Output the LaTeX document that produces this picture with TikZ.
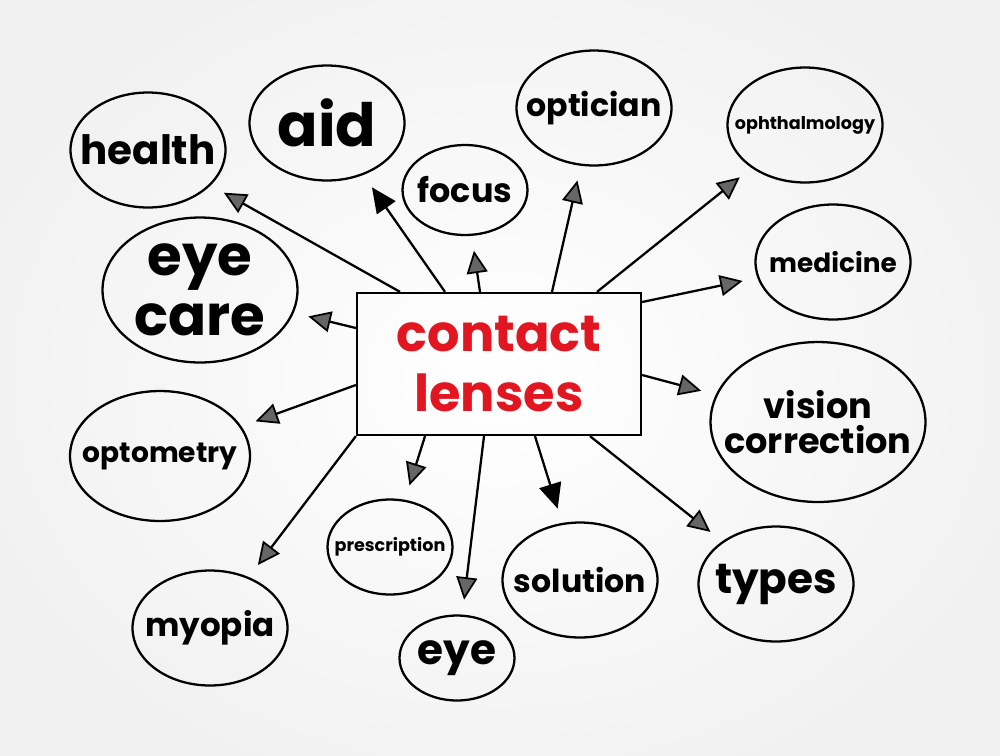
\documentclass[tikz,border=0pt]{standalone}
\usepackage{fontspec}
\setmainfont{Poppins}
\usetikzlibrary{shapes.geometric,arrows.meta}
\definecolor{markerred}{RGB}{226,22,32}
\begin{document}
\begin{tikzpicture}[x=0.02cm, y=-0.02cm,
  bubble/.style={draw, ellipse, line width=1.3pt, inner sep=0pt},
  every label/.style={align=center, inner sep=0pt},
  spoke/.style={line width=1.3pt, shorten >=0.3cm, -{Triangle[open, fill=black!60, length=0.45cm, width=0.42cm, line width=1pt]}},
  solid spoke/.style={line width=1.3pt, shorten >=0.3cm, -{Triangle[length=0.5cm, width=0.45cm]}}]
\useasboundingbox (0,0) rectangle (1000,755);
\shade[inner color=white, outer color=black!6] (-100,-100) rectangle (1100,855);
% centre
\node[draw, line width=1.3pt, minimum width=5.68cm, minimum height=2.84cm, align=center, text=markerred, font=\bfseries\fontsize{29}{34}\selectfont] (cl) at (499,364) {contact\\lenses};
% bubbles
\node[bubble, minimum width=3.1cm, minimum height=2.3cm, label={[font=\bfseries\fontsize{23}{25}\selectfont]center:health}] (health) at (148,150) {};
\node[bubble, minimum width=3.1cm, minimum height=2.3cm, label={[font=\bfseries\fontsize{34}{36}\selectfont]center:aid}] (aid) at (327,123) {};
\node[bubble, minimum width=2.5cm, minimum height=1.8cm, label={[font=\bfseries\fontsize{19}{21}\selectfont]center:focus}] (focus) at (465,190) {};
\node[bubble, minimum width=3.1cm, minimum height=2.3cm, label={[font=\bfseries\fontsize{18}{20}\selectfont]center:optician}] (optician) at (594,108) {};
\node[bubble, minimum width=3.1cm, minimum height=2.3cm, label={[font=\bfseries\fontsize{10}{12}\selectfont]center:ophthalmology}] (ophth) at (805,125) {};
\node[bubble, minimum width=3.9cm, minimum height=2.9cm, label={[font=\bfseries\fontsize{32}{34}\selectfont]center:eye\\care}] (eyecare) at (200,290) {};
\node[bubble, minimum width=3.1cm, minimum height=2.3cm, label={[font=\bfseries\fontsize{15}{17}\selectfont]center:medicine}] (medicine) at (833,262) {};
\node[bubble, minimum width=3.6cm, minimum height=2.6cm, label={[font=\bfseries\fontsize{16}{18}\selectfont]center:optometry}] (optometry) at (160,456) {};
\node[bubble, minimum width=4.3cm, minimum height=3.2cm, label={[font=\bfseries\fontsize{20}{20}\selectfont]center:vision\\correction}] (vision) at (818,422) {};
\node[bubble, minimum width=2.5cm, minimum height=1.9cm, label={[font=\bfseries\fontsize{10}{12}\selectfont]center:prescription}] (prescription) at (390,547) {};
\node[bubble, minimum width=3.1cm, minimum height=2.3cm, label={[font=\bfseries\fontsize{18}{20}\selectfont]center:solution}] (solution) at (580,580) {};
\node[bubble, minimum width=3.1cm, minimum height=2.3cm, label={[font=\bfseries\fontsize{24}{26}\selectfont]center:types}] (types) at (776,584) {};
\node[bubble, minimum width=3.1cm, minimum height=2.3cm, label={[font=\bfseries\fontsize{18.5}{20}\selectfont]center:myopia}] (myopia) at (210,628) {};
\node[bubble, minimum width=2.3cm, minimum height=1.7cm, label={[font=\bfseries\fontsize{24}{26}\selectfont]center:eye}] (eye) at (457,658) {};
% spokes
\draw[spoke] ([xshift=-1.98cm]cl.north) -- (health);
\draw[solid spoke] ([xshift=-1.08cm]cl.north) -- (aid);
\draw[spoke] ([xshift=-0.38cm]cl.north) -- (focus);
\draw[spoke] ([xshift=1.06cm]cl.north) -- (optician);
\draw[spoke] ([xshift=1.96cm]cl.north) -- (ophth);
\draw[spoke] ([yshift=0.72cm]cl.west) -- (eyecare);
\draw[spoke] ([yshift=1.24cm]cl.east) -- (medicine);
\draw[spoke] ([yshift=-0.42cm]cl.west) -- (optometry);
\draw[spoke] ([yshift=-0.22cm]cl.east) -- (vision);
\draw[spoke] (cl.south west) -- (myopia);
\draw[spoke] ([xshift=-1.48cm]cl.south) -- (prescription);
\draw[spoke] ([xshift=-0.3cm]cl.south) -- (eye);
\draw[solid spoke] ([xshift=0.72cm]cl.south) -- (solution);
\draw[spoke] ([xshift=1.82cm]cl.south) -- (types);
\end{tikzpicture}
\end{document}
